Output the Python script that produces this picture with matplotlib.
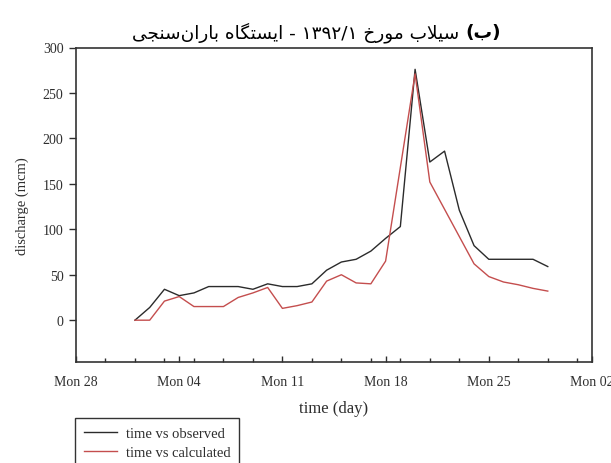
import matplotlib
matplotlib.use("Agg")
import matplotlib.pyplot as plt
import matplotlib.dates as mdates
import pandas as pd

# ---------------- data ----------------
start_date = "2011-04-01"
observed = [0, 14, 34, 27, 30, 37, 37, 37, 34, 40, 37, 37, 40, 55, 64, 67,
            76, 90, 103, 276, 174, 186, 121, 82, 67, 67, 67, 67, 59]
calculated = [0, 0, 21, 26, 15, 15, 15, 25, 30, 36, 13, 16, 20, 43, 50, 41,
              40, 65, 168, 271, 152, 122, 92, 62, 48, 42, 39, 35, 32]
series_labels = ["time vs observed", "time vs calculated"]
y_ticks = [0, 50, 100, 150, 200, 250, 300]
x_start, x_end = "2011-03-28", "2011-05-02"
title_main = "سیلاب مورخ ۱۳۹۲/۱ - ایستگاه باران‌سنجی"
title_bold = "ب"

dates = pd.date_range(start_date, periods=len(observed), freq="D")

# ------------- minimal Persian shaping (visual order) -------------
FORMS = {
    "ا": ("\uFE8D", "\uFE8E", None, None),
    "ب": ("\uFE8F", "\uFE90", "\uFE91", "\uFE92"),
    "ت": ("\uFE95", "\uFE96", "\uFE97", "\uFE98"),
    "ج": ("\uFE9D", "\uFE9E", "\uFE9F", "\uFEA0"),
    "خ": ("\uFEA5", "\uFEA6", "\uFEA7", "\uFEA8"),
    "ر": ("\uFEAD", "\uFEAE", None, None),
    "س": ("\uFEB1", "\uFEB2", "\uFEB3", "\uFEB4"),
    "ل": ("\uFEDD", "\uFEDE", "\uFEDF", "\uFEE0"),
    "م": ("\uFEE1", "\uFEE2", "\uFEE3", "\uFEE4"),
    "ن": ("\uFEE5", "\uFEE6", "\uFEE7", "\uFEE8"),
    "ه": ("\uFEE9", "\uFEEA", "\uFEEB", "\uFEEC"),
    "و": ("\uFEED", "\uFEEE", None, None),
    "ی": ("\uFBFC", "\uFBFD", "\uFBFE", "\uFBFF"),
    "گ": ("\uFB92", "\uFB93", "\uFB94", "\uFB95"),
    "لا": ("\uFEFB", "\uFEFC", None, None),
}


def shape_word(word):
    toks, i = [], 0
    while i < len(word):
        if word[i] == "ل" and i + 1 < len(word) and word[i + 1] == "ا":
            toks.append("لا")
            i += 2
        else:
            toks.append(word[i])
            i += 1
    out = []
    for k, t in enumerate(toks):
        if t == "\u200c":
            continue
        if t not in FORMS:
            out.append(t)
            continue
        prev = toks[k - 1] if k > 0 else None
        nxt = toks[k + 1] if k + 1 < len(toks) else None
        jp = prev in FORMS and FORMS[prev][2] is not None
        jn = nxt in FORMS and FORMS[t][2] is not None
        iso, fin, ini, med = FORMS[t]
        out.append(med if (jp and jn) else fin if jp else ini if jn else iso)
    return "".join(reversed(out))


def visual(text):
    words = text.split(" ")
    res = []
    for w in reversed(words):
        if all(c in "۰۱۲۳۴۵۶۷۸۹/-0123456789" for c in w):
            res.append(w)
        else:
            res.append(shape_word(w))
    return " ".join(res)


# ---------------- figure ----------------
fig = plt.figure(figsize=(6.11, 4.64), dpi=100)
ax = fig.add_axes([76 / 611, 1 - 363 / 464, (592 - 76) / 611, (363 - 48.5) / 464])

serif = ["Liberation Serif", "DejaVu Serif"]
ink = "#2e2e2e"

ax.plot(dates, observed, color="#2b2b2b", lw=1.0, label=series_labels[0])
ax.plot(dates, calculated, color="#c44e4e", lw=1.0, label=series_labels[1])

ax.set_xlim(pd.Timestamp(x_start), pd.Timestamp(x_end))
ax.set_ylim(-46, 300)
ax.set_yticks(y_ticks)

ax.xaxis.set_major_locator(mdates.WeekdayLocator(byweekday=mdates.MO))
ax.xaxis.set_major_formatter(mdates.DateFormatter("%a %d"))
minor = [mdates.date2num(d) for d in pd.date_range(x_start, x_end, freq="2D")]
ax.xaxis.set_minor_locator(matplotlib.ticker.FixedLocator(minor))

ax.tick_params(axis="x", which="major", direction="in", length=4, width=1.0,
               color=ink, pad=9, labelsize=10, labelcolor=ink)
ax.tick_params(axis="x", which="minor", direction="in", length=3, width=1.0, color=ink)
ax.tick_params(axis="y", direction="out", length=5, width=1.0, color=ink,
               pad=4, labelsize=10, labelcolor=ink)
for lab in ax.get_xticklabels() + ax.get_yticklabels():
    lab.set_family(serif)

for s in ax.spines.values():
    s.set_color("#333333")
    s.set_linewidth(1.2)

ax.set_ylabel("discharge (mcm)", family=serif, fontsize=10.5, color=ink, labelpad=10)
ax.set_xlabel("time (day)", family=serif, fontsize=12, color=ink, labelpad=9)

leg = fig.legend(loc="upper left", bbox_to_anchor=(75 / 611, 1 - 419 / 464),
                 bbox_transform=fig.transFigure, frameon=True, fancybox=False,
                 edgecolor="#333333", framealpha=1, borderaxespad=0,
                 prop={"family": serif, "size": 10.5}, handlelength=2.3,
                 handletextpad=0.6, labelspacing=0.4, borderpad=0.6)
leg.get_frame().set_linewidth(1.0)
for t in leg.get_texts():
    t.set_color(ink)

# title (Persian, right-to-left, bold label on the right)
ty = 1 - 33 / 464
t_main = fig.text(459 / 611, ty, visual(title_main), ha="right", va="center",
                  family=["DejaVu Sans"], fontsize=12, color="black")
t_bold = fig.text(465 / 611, ty, "(" + shape_word(title_bold) + ")", ha="left",
                  va="center", family=["DejaVu Sans"], fontsize=12,
                  weight="bold", color="black")
fig.canvas.draw()
r = fig.canvas.get_renderer()
w = t_main.get_window_extent(r).width
fs = 12 * (326 / w)
t_main.set_fontsize(fs)
t_bold.set_fontsize(fs)

fig.savefig("out.png", dpi=100, facecolor="white")
